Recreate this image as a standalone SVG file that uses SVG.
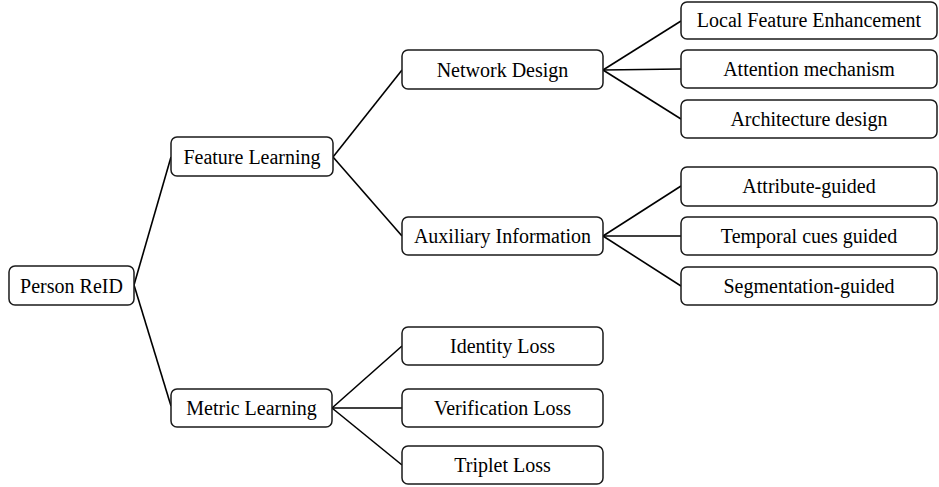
<svg xmlns="http://www.w3.org/2000/svg" width="939" height="487" viewBox="0 0 939 487">
  <style>
    .box { fill: #ffffff; stroke: #1a1a1a; stroke-width: 1.5; }
    .lbl { font-family: "Liberation Serif", "Times New Roman", serif; font-size: 20px; fill: #000000; text-anchor: middle; }
    .edge { stroke: #000000; stroke-width: 1.6; fill: none; }
  </style>
  <rect width="939" height="487" fill="#ffffff"/>

  <!-- connectors -->
  <g id="connectors">
    <line class="edge" x1="134" y1="285" x2="171" y2="157"/>
    <line class="edge" x1="134" y1="285" x2="171" y2="406"/>
    <line class="edge" x1="333" y1="157" x2="402" y2="70"/>
    <line class="edge" x1="333" y1="157" x2="402" y2="236"/>
    <line class="edge" x1="603" y1="70" x2="681" y2="21"/>
    <line class="edge" x1="603" y1="70" x2="681" y2="69"/>
    <line class="edge" x1="603" y1="70" x2="681" y2="119"/>
    <line class="edge" x1="603" y1="236" x2="681" y2="186"/>
    <line class="edge" x1="603" y1="236" x2="681" y2="236"/>
    <line class="edge" x1="603" y1="236" x2="681" y2="286"/>
    <line class="edge" x1="332" y1="408" x2="402" y2="346"/>
    <line class="edge" x1="332" y1="408" x2="402" y2="408"/>
    <line class="edge" x1="332" y1="408" x2="402" y2="465"/>
  </g>

  <g id="person-reid">
    <rect class="box" x="9" y="266" width="125" height="39" rx="6"/>
    <text class="lbl" x="71.5" y="293">Person ReID</text>
  </g>
  <g id="feature-learning">
    <rect class="box" x="171" y="137" width="162" height="39" rx="6"/>
    <text class="lbl" x="252" y="164">Feature Learning</text>
  </g>
  <g id="metric-learning">
    <rect class="box" x="171" y="389" width="161" height="38" rx="6"/>
    <text class="lbl" x="251.5" y="415">Metric Learning</text>
  </g>
  <g id="network-design">
    <rect class="box" x="402" y="50" width="201" height="39" rx="6"/>
    <text class="lbl" x="502.5" y="77">Network Design</text>
  </g>
  <g id="auxiliary-information">
    <rect class="box" x="402" y="217" width="201" height="38" rx="6"/>
    <text class="lbl" x="502.5" y="243">Auxiliary Information</text>
  </g>
  <g id="identity-loss">
    <rect class="box" x="402" y="327" width="201" height="38" rx="6"/>
    <text class="lbl" x="502.5" y="353">Identity Loss</text>
  </g>
  <g id="verification-loss">
    <rect class="box" x="402" y="389" width="201" height="38" rx="6"/>
    <text class="lbl" x="502.5" y="415">Verification Loss</text>
  </g>
  <g id="triplet-loss">
    <rect class="box" x="402" y="446" width="201" height="38" rx="6"/>
    <text class="lbl" x="502.5" y="472">Triplet Loss</text>
  </g>
  <g id="local-feature-enhancement">
    <rect class="box" x="681" y="2" width="256" height="37" rx="6"/>
    <text class="lbl" x="809" y="27">Local Feature Enhancement</text>
  </g>
  <g id="attention-mechanism">
    <rect class="box" x="681" y="50" width="256" height="38" rx="6"/>
    <text class="lbl" x="809" y="76">Attention mechanism</text>
  </g>
  <g id="architecture-design">
    <rect class="box" x="681" y="100" width="256" height="38" rx="6"/>
    <text class="lbl" x="809" y="126">Architecture design</text>
  </g>
  <g id="attribute-guided">
    <rect class="box" x="681" y="167" width="256" height="39" rx="6"/>
    <text class="lbl" x="809" y="193">Attribute-guided</text>
  </g>
  <g id="temporal-cues-guided">
    <rect class="box" x="681" y="217" width="256" height="38" rx="6"/>
    <text class="lbl" x="809" y="243">Temporal cues guided</text>
  </g>
  <g id="segmentation-guided">
    <rect class="box" x="681" y="267" width="256" height="38" rx="6"/>
    <text class="lbl" x="809" y="293">Segmentation-guided</text>
  </g>
</svg>
